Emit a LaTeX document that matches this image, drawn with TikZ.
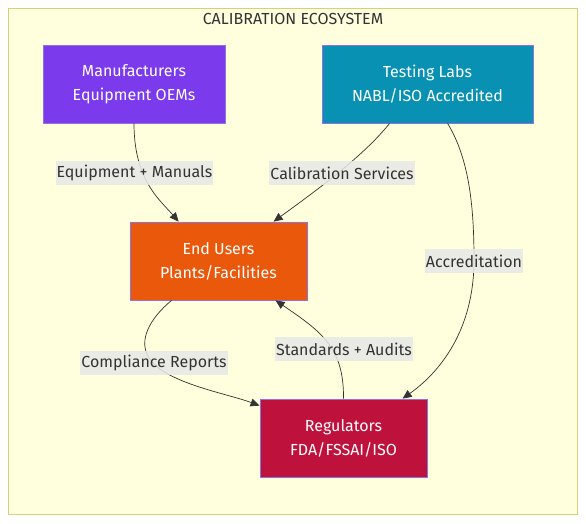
\documentclass[tikz,border=0pt]{standalone}
\usepackage{fontspec}
\setmainfont{Fira Sans}
\usetikzlibrary{arrows.meta,calc}
\definecolor{clusterbg}{HTML}{FFFFDE}
\definecolor{clusterbd}{HTML}{D2D27A}
\definecolor{nodebd}{HTML}{9370DB}
\definecolor{manuf}{HTML}{7C3AED}
\definecolor{labs}{HTML}{0891B2}
\definecolor{users}{HTML}{EA580C}
\definecolor{regs}{HTML}{BE123C}
\definecolor{ink}{HTML}{333333}
\definecolor{lblbg}{HTML}{E8E8E8}
\begin{document}
\begin{tikzpicture}[x=1pt,y=-1pt,
  box/.style={draw=nodebd,line width=0.8pt,text=white,align=center,inner sep=0pt,
    font=\fontsize{16}{24}\selectfont},
  lbl/.style={fill=lblbg,fill opacity=0.85,text opacity=1,text=ink,inner xsep=1pt,inner ysep=0pt,
    minimum height=24pt,font=\fontsize{16}{20}\selectfont},
  edge/.style={draw=ink,line width=0.7pt,-{Triangle[length=9pt,width=8pt]}}]
\useasboundingbox (0,0) rectangle (586,523);
\draw[fill=clusterbg,draw=clusterbd,line width=1.2pt] (8.5,8.5) rectangle (577.5,514.5);
\node[text=ink,font=\fontsize{16}{20}\selectfont] (title) at (293,19) {CALIBRATION ECOSYSTEM};

\node[box,fill=manuf,minimum width=182pt,minimum height=78pt] (m) at (134,84) {Manufacturers\\Equipment OEMs};
\node[box,fill=labs,minimum width=211pt,minimum height=78pt] (t) at (427.5,84) {Testing Labs\\NABL/ISO Accredited};
\node[box,fill=users,minimum width=177pt,minimum height=78pt] (u) at (218.5,261) {End Users\\Plants/Facilities};
\node[box,fill=regs,minimum width=167pt,minimum height=78pt] (r) at (343.5,438) {Regulators\\FDA/FSSAI/ISO};

\draw[edge] (m.south) .. controls ++(0,57) and (160,200) .. ($(u.north west)+(49,0)$);
\draw[edge] ($(t.south west)+(68,0)$) .. controls (362,158) and (310,195) .. ($(u.north west)+(144,0)$);
\draw[edge] ($(t.south west)+(126,0)$) .. controls (470,160) and (474,210) .. (474,260)
   .. controls (474,330) and (440,372) .. ($(r.north west)+(143,0)$);
\draw[edge] ($(u.south west)+(42,0)$) .. controls (150,318) and (133,345) .. (155,365)
   .. controls (177,385) and (228,394) .. ($(r.north west)+(0,7)$);
\draw[edge] (r.north) .. controls (344,348) and (322,332) .. ($(u.south west)+(146,0)$);

\node[lbl] (l1) at (134.5,173) {Equipment + Manuals};
\node[lbl] (l2) at (342,173) {Calibration Services};
\node[lbl] (l3) at (474,261) {Accreditation};
\node[lbl] (l4) at (154,363) {Compliance Reports};
\node[lbl] (l5) at (344,349) {Standards + Audits};
\end{tikzpicture}
\end{document}
